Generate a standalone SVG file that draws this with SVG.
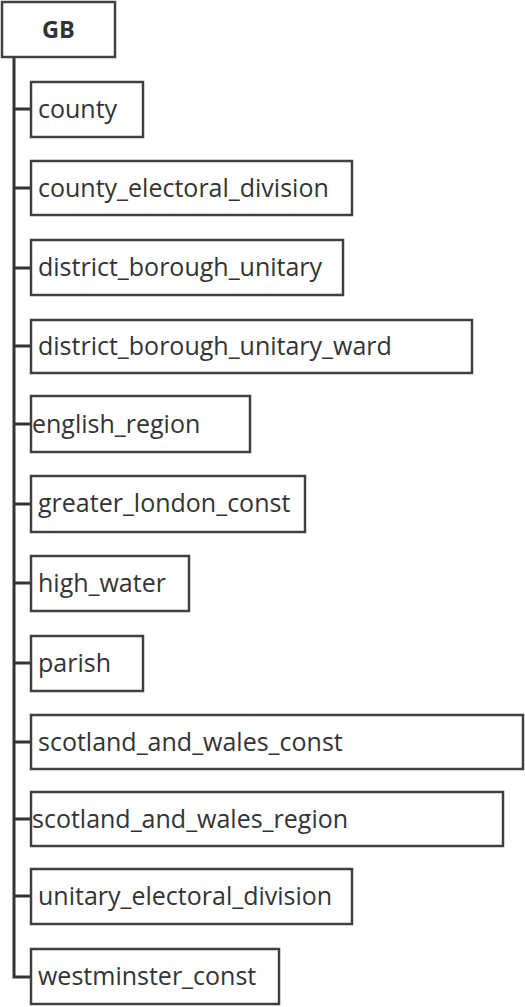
<svg xmlns="http://www.w3.org/2000/svg" width="525" height="1007" viewBox="0 0 525 1007">
<style>
rect{fill:#fff;stroke:#404040;stroke-width:2.5}
text{font-family:"Open Sans","Noto Sans",sans-serif;font-size:25px;fill:#333}
.root{font-weight:bold;font-size:23.5px;text-anchor:middle}
.conn{stroke:#333;stroke-width:3;fill:none}
</style>
<rect x="0" y="0" width="525" height="1007" style="stroke:none"/>
<g id="connectors">
<path class="conn" d="M14 57V977H31"/>
<path class="conn" d="M14 109H31M14 188H31M14 268H31M14 346H31M14 424H31M14 504H31M14 583H31M14 663H31M14 742H31M14 819H31M14 896H31"/>
</g>
<g id="GB"><rect x="2" y="2" width="113" height="55"/><text class="root" x="58.5" y="37.5">GB</text></g>
<g id="county"><rect x="31" y="82" width="112" height="55"/><text x="38" y="117.5">county</text></g>
<g id="county_electoral_division"><rect x="31" y="161" width="321" height="54"/><text x="38" y="196.5">county_electoral_division</text></g>
<g id="district_borough_unitary"><rect x="31" y="240" width="312" height="55"/><text x="38" y="275.5">district_borough_unitary</text></g>
<g id="district_borough_unitary_ward"><rect x="31" y="320" width="441" height="53"/><text x="38" y="354.5">district_borough_unitary_ward</text></g>
<g id="english_region"><rect x="31" y="396" width="219" height="56"/><text x="32" y="432.5">english_region</text></g>
<g id="greater_london_const"><rect x="31" y="476" width="274" height="56"/><text x="38" y="511.5">greater_london_const</text></g>
<g id="high_water"><rect x="31" y="556" width="158" height="55"/><text x="38" y="591.5">high_water</text></g>
<g id="parish"><rect x="31" y="636" width="112" height="55"/><text x="38" y="671.5">parish</text></g>
<g id="scotland_and_wales_const"><rect x="31" y="715" width="492" height="54"/><text x="38" y="750.5">scotland_and_wales_const</text></g>
<g id="scotland_and_wales_region"><rect x="31" y="792" width="472" height="54"/><text x="32" y="827.5">scotland_and_wales_region</text></g>
<g id="unitary_electoral_division"><rect x="31" y="869" width="321" height="55"/><text x="38" y="904.5">unitary_electoral_division</text></g>
<g id="westminster_const"><rect x="31" y="949" width="248" height="55"/><text x="38" y="984.5">westminster_const</text></g>
</svg>
